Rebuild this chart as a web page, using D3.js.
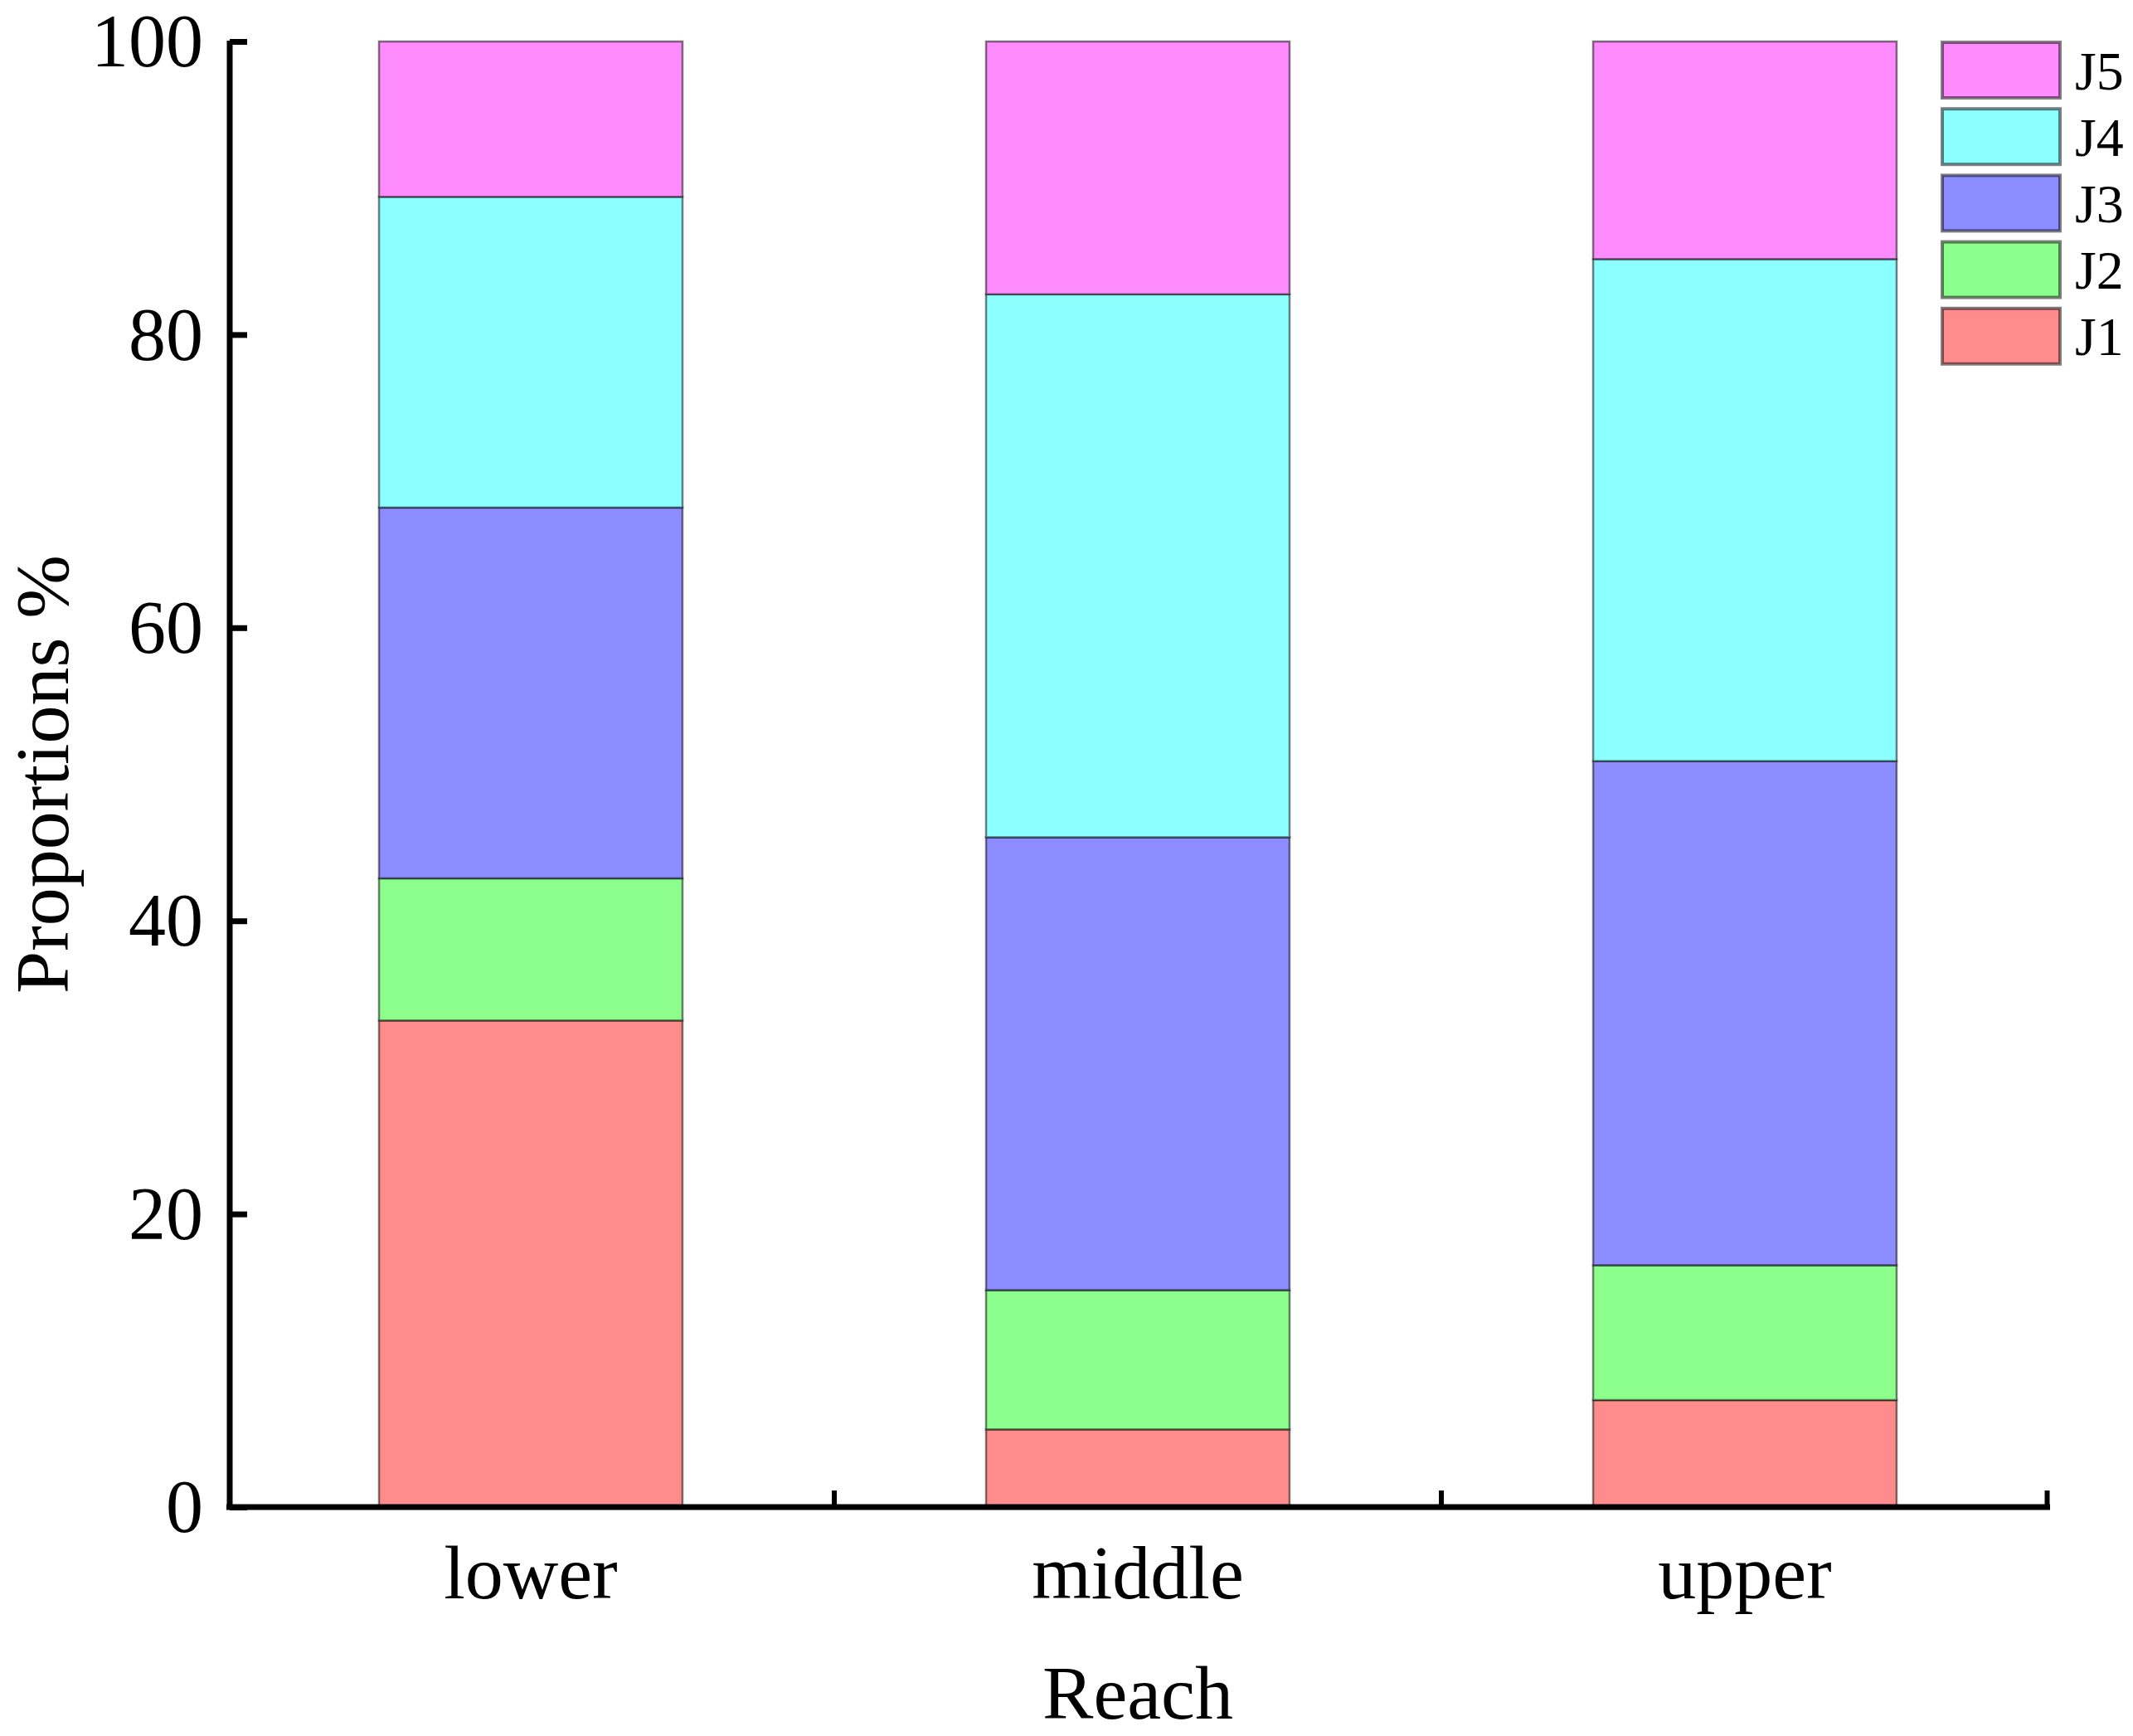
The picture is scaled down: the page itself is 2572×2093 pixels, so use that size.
<!DOCTYPE html>
<html>
<head>
<meta charset="utf-8">
<script src="https://cdn.jsdelivr.net/npm/d3@7"></script>
<style>
html,body{margin:0;padding:0;background:#fff;}
svg{display:block;}
text{font-family:"Liberation Serif","Times New Roman",serif;fill:#000;}
</style>
</head>
<body>
<svg id="chart" width="2572" height="2093"></svg>
<script>
// ---- data ----
const categories = ["lower", "middle", "upper"];
const seriesNames = ["J1", "J2", "J3", "J4", "J5"];
const J1 = [33.2, 5.3, 7.3];
const J2 = [9.7, 9.5, 9.2];
const J3 = [25.3, 30.9, 34.4];
const J4 = [21.2, 37.05, 34.25];
const J5 = [10.6, 17.25, 14.85];
const yTicks = [0, 20, 40, 60, 80, 100];
const colors = ["#FF8C8C", "#8CFF8C", "#8C8CFF", "#8CFFFF", "#FF8CFF"];
const xTitle = "Reach";
const yTitle = "Proportions %";

const seriesValues = [J1, J2, J3, J4, J5];
const table = categories.map((c, i) => {
  const row = {cat: c};
  seriesNames.forEach((s, k) => row[s] = seriesValues[k][i]);
  return row;
});
const stacked = d3.stack().keys(seriesNames)(table);

// ---- layout ----
const svg = d3.select("#chart");
const x0 = 274, x1 = 2470, yBottom = 1817, yTop = 50;
const x = d3.scaleBand().domain(categories).range([x0, x1]).paddingInner(0).paddingOuter(0);
const y = d3.scaleLinear().domain([0, 100]).range([yBottom, yTop]);
const color = d3.scaleOrdinal().domain(seriesNames).range(colors);
const barW = x.bandwidth() * 0.5;

// bars
const gBars = svg.append("g");
stacked.forEach(layer => {
  gBars.append("g")
    .selectAll("rect")
    .data(layer)
    .join("rect")
    .attr("x", d => x(d.data.cat) + (x.bandwidth() - barW) / 2)
    .attr("width", barW)
    .attr("y", d => y(d[1]))
    .attr("height", d => y(d[0]) - y(d[1]))
    .attr("fill", color(layer.key))
    .attr("stroke", "rgba(0,0,0,0.5)")
    .attr("stroke-width", 2.5);
});

// y axis
const yAxis = d3.axisLeft(y).tickValues(yTicks).tickSize(-21).tickPadding(32).tickFormat(d3.format("d"));
const gy = svg.append("g").attr("transform", `translate(${x0 + 3},0)`).call(yAxis);
gy.select(".domain").attr("d", `M0,${yTop - 1}V${yBottom + 3}`).attr("stroke", "#000").attr("stroke-width", 7).attr("fill", "none");
gy.selectAll(".tick line").attr("stroke", "#000").attr("stroke-width", 7);
gy.selectAll(".tick text").attr("font-size", 90).attr("dy", "0.33em")
  .attr("font-family", '"Liberation Serif","Times New Roman",serif');

// x axis
const xAxis = d3.axisBottom(x).tickSize(0).tickPadding(0);
const gx = svg.append("g").attr("transform", `translate(0,${yBottom})`).call(xAxis);
gx.select(".domain").attr("d", `M${x0 - 1},0H${x1 + 2}`).attr("stroke", "#000").attr("stroke-width", 7).attr("fill", "none");
gx.selectAll(".tick text").attr("font-size", 92).attr("y", 110).attr("dy", 0)
  .attr("font-family", '"Liberation Serif","Times New Roman",serif');
// boundary ticks (inside, pointing up)
const bounds = categories.slice(1).map(c => x(c)).concat([x1 - 1.5]);
gx.selectAll(".bound").data(bounds).join("line").attr("class", "bound")
  .attr("x1", d => d).attr("x2", d => d).attr("y1", 0).attr("y2", -20)
  .attr("stroke", "#000").attr("stroke-width", 6);

// axis titles
svg.append("text").attr("x", (x0 + x1) / 2).attr("y", 2072).attr("text-anchor", "middle")
  .attr("font-size", 92).text(xTitle);
svg.append("text").attr("transform", `translate(82,${(yTop + yBottom) / 2}) rotate(-90)`)
  .attr("text-anchor", "middle").attr("font-size", 92).text(yTitle);

// legend
const legendOrder = seriesNames.slice().reverse();
const lg = svg.append("g");
legendOrder.forEach((s, i) => {
  const top = 51 + i * 80.2;
  lg.append("rect").attr("x", 2342).attr("y", top).attr("width", 142).attr("height", 67)
    .attr("fill", color(s)).attr("stroke", "rgba(0,0,0,0.5)").attr("stroke-width", 4);
  lg.append("text").attr("x", 2502).attr("y", top + 33.5).attr("dy", "0.35em")
    .attr("font-size", 66).text(s);
});
</script>
</body>
</html>
